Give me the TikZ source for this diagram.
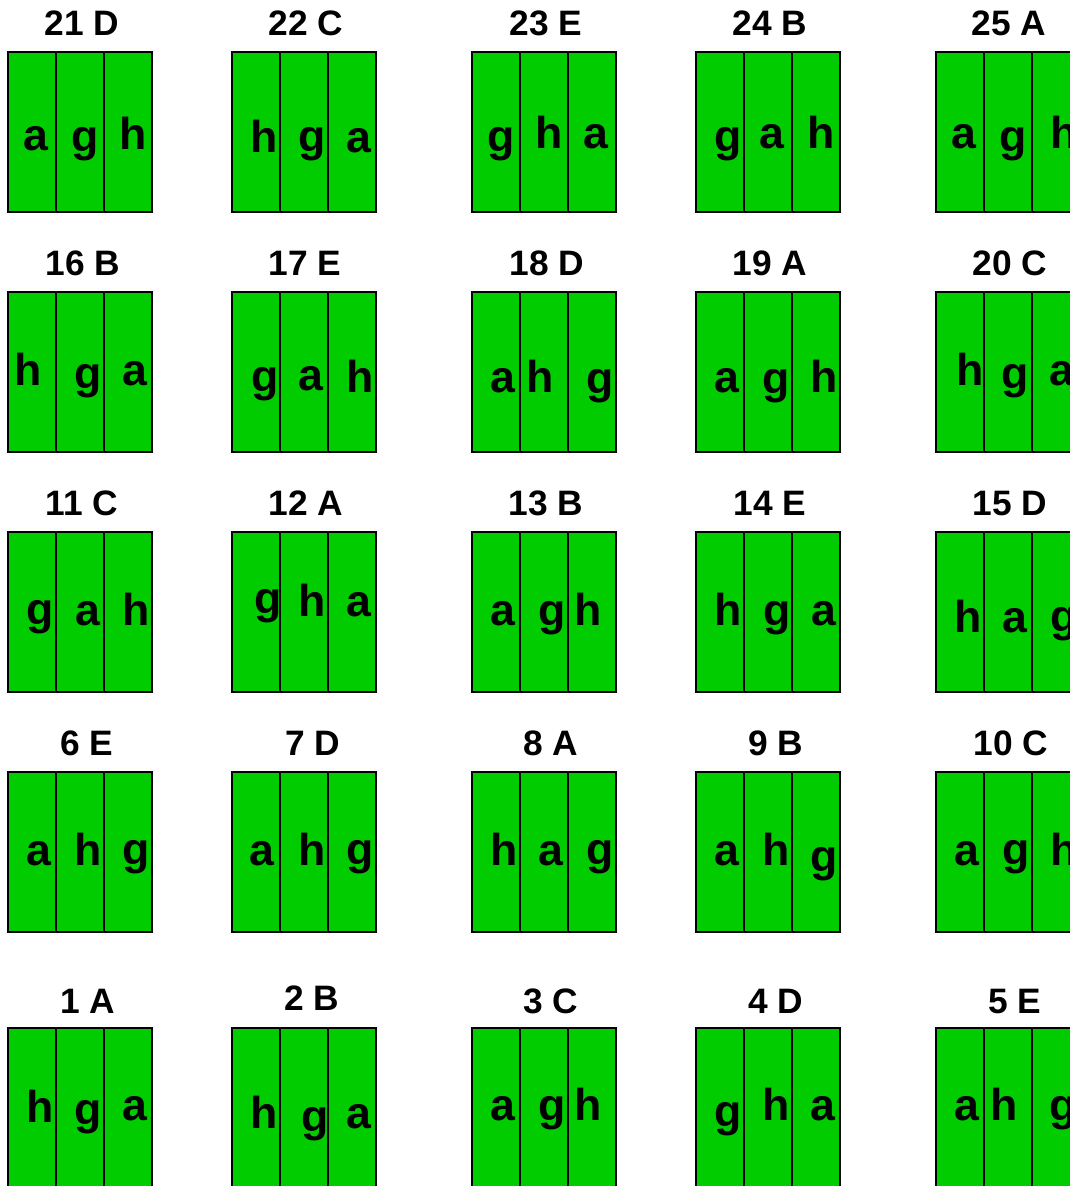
\documentclass[tikz,border=0pt]{standalone}
\usepackage{fontspec}
\setmainfont{Liberation Sans}
\definecolor{plotgreen}{HTML}{00CC00}
\begin{document}
\begin{tikzpicture}[x=0.75pt,y=-0.75pt,
  ttl/.style={font=\bfseries\fontsize{26.5}{31}\selectfont, anchor=base, inner sep=0pt},
  lett/.style={font=\bfseries\fontsize{33.5}{40}\selectfont, anchor=base, inner sep=0pt},
  strip/.style={draw=black, line width=1.5pt, fill=plotgreen}]
\useasboundingbox (0,0) rectangle (1070,1186);
\clip (0,0) rectangle (1070,1186);
\foreach \cx in {8,232,472,696,936}{
  \foreach \cy in {52,292,532,772,1028}{
    \foreach \k in {0,1,2}{
      \draw[strip] (\cx+\k*48,\cy) rectangle ++(48,160);
    }
  }
}
% titles
\foreach \n/\t/\x/\y in {
  t21/21 D/82/35, t22/22 C/306/35, t23/23 E/546/35, t24/24 B/770/35, t25/25 A/1009/35,
  t16/16 B/83/275, t17/17 E/305/275, t18/18 D/547/275, t19/19 A/770/275, t20/20 C/1010/275,
  t11/11 C/82/515, t12/12 A/306/515, t13/13 B/546/515, t14/14 E/770/515, t15/15 D/1010/515,
  t6/6 E/87/755, t7/7 D/313/755, t8/8 A/551/755, t9/9 B/776/755, t10/10 C/1011/755,
  t1/1 A/88/1013, t2/2 B/312/1010, t3/3 C/551/1013, t4/4 D/776/1013, t5/5 E/1015/1013}
  { \node[ttl] (\n) at (\x,\y) {\t}; }
% letters
\foreach \n/\l/\x/\y in {
  p21a/a/36/150, p21g/g/85/151, p21h/h/133/149,
  p22h/h/264/152, p22g/g/312/151, p22a/a/359/152,
  p23g/g/501/151, p23h/h/549/148, p23a/a/596/148,
  p24g/g/728/151, p24a/a/772/148, p24h/h/821/148,
  p25a/a/964/148, p25g/g/1013/151, p25h/h/1064/148,
  p16h/h/28/385, p16g/g/88/388, p16a/a/135/385,
  p17g/g/265/391, p17a/a/311/390, p17h/h/360/392,
  p18a/a/503/392, p18h/h/540/392, p18g/g/600/393,
  p19a/a/727/392, p19g/g/776/393, p19h/h/824/392,
  p20h/h/970/385, p20g/g/1015/388, p20a/a/1062/385,
  p11g/g/40/624, p11a/a/88/625, p11h/h/136/625,
  p12g/g/268/613, p12h/h/312/616, p12a/a/359/616,
  p13a/a/503/625, p13g/g/552/625, p13h/h/588/625,
  p14h/h/728/625, p14g/g/777/625, p14a/a/824/625,
  p15h/h/968/632, p15a/a/1015/632, p15g/g/1064/631,
  p6a/a/39/865, p6h/h/88/865, p6g/g/136/864,
  p7a/a/262/865, p7h/h/312/865, p7g/g/360/864,
  p8h/h/504/865, p8a/a/551/865, p8g/g/600/864,
  p9a/a/727/865, p9h/h/776/865, p9g/g/824/871,
  p10a/a/967/865, p10g/g/1016/864, p10h/h/1064/865,
  p1h/h/40/1122, p1g/g/88/1124, p1a/a/135/1120,
  p2h/h/264/1128, p2g/g/315/1131, p2a/a/359/1128,
  p3a/a/503/1120, p3g/g/552/1120, p3h/h/588/1120,
  p4g/g/728/1126, p4h/h/776/1120, p4a/a/823/1120,
  p5a/a/967/1120, p5h/h/1004/1120, p5g/g/1063/1120}
  { \node[lett] (\n) at (\x,\y) {\l}; }
\end{tikzpicture}
\end{document}
